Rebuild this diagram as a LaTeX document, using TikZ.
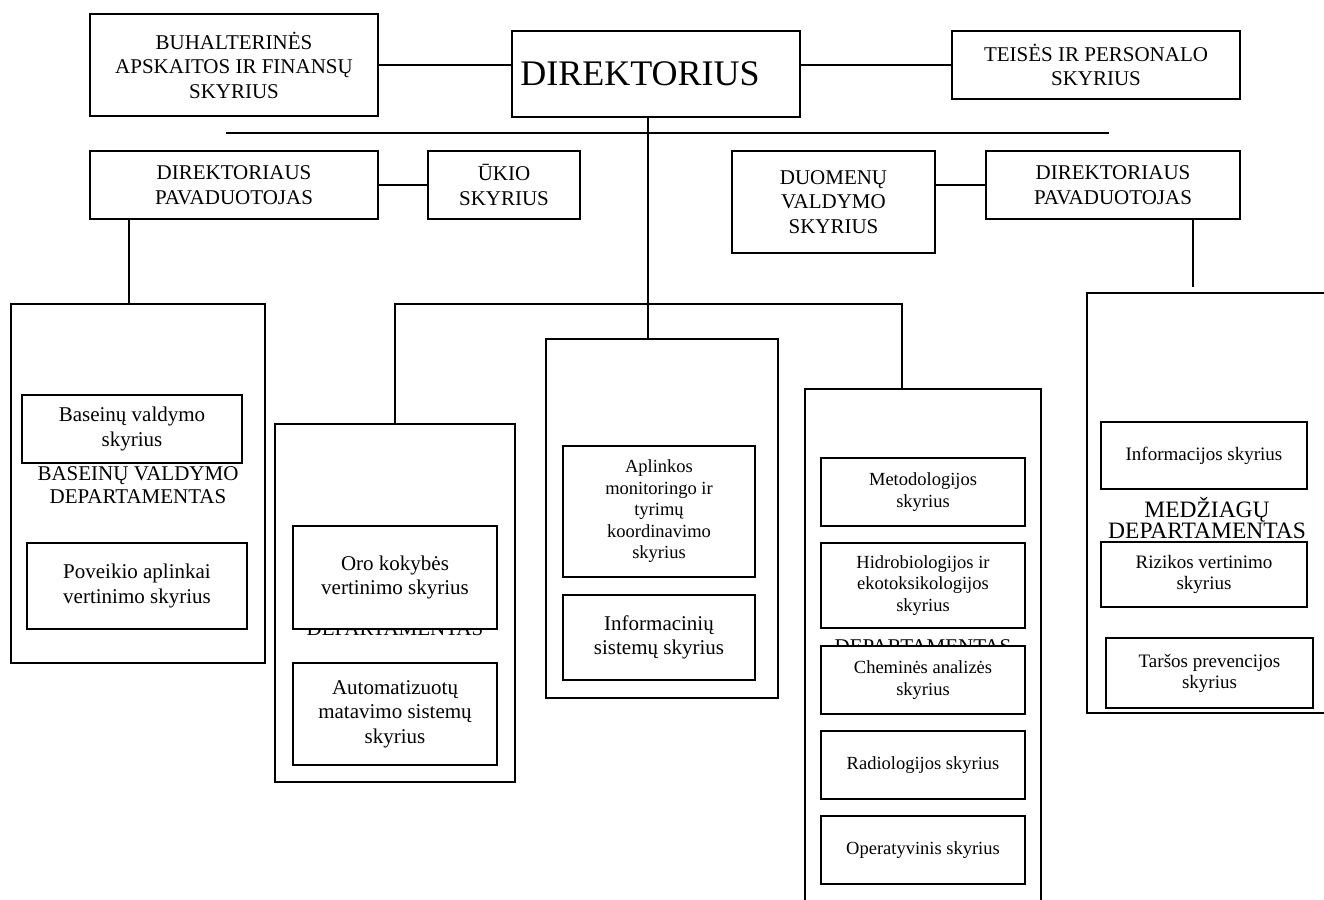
\documentclass[tikz,border=0pt]{standalone}
\usepackage{fontspec}
\setmainfont{Liberation Serif}
\begin{document}
\begin{tikzpicture}[x=1pt,y=-1pt,line width=1.6pt]
\tikzset{
 bx/.style={draw, fill=white, inner sep=2pt, align=center, line width=1.6pt},
 fa/.style={font=\fontsize{21}{24.5}\selectfont},
 fb/.style={font=\fontsize{18.5}{21.5}\selectfont},
 fc/.style={font=\fontsize{19}{21}\selectfont},
 ttl/.style={anchor=base, inner sep=0pt, font=\fontsize{21}{23}\selectfont},
}
\useasboundingbox (0,0) rectangle (1324,899);
\clip (0,0) rectangle (1324,899);

% top row
\node[bx,fa,minimum width=288pt,minimum height=102pt] (buh) at (234,65) {BUHALTERINĖS\\APSKAITOS IR FINANSŲ\\SKYRIUS};
\node[draw, fill=white, inner sep=2pt, font=\fontsize{36}{40}\selectfont, minimum width=288pt, minimum height=86pt] (dir) at (656,74) {\mbox{DIREKTORIUS\kern32pt}};
\node[bx,fa,minimum width=288pt,minimum height=68pt] (teises) at (1096,65) {TEISĖS IR PERSONALO\\SKYRIUS};

% second row
\node[bx,fa,minimum width=288pt,minimum height=68pt] (dpl) at (234,185) {DIREKTORIAUS\\PAVADUOTOJAS};
\node[bx,fa,minimum width=152pt,minimum height=68pt] (ukio) at (504,185) {ŪKIO\\SKYRIUS};
\node[bx,fa,minimum width=203pt,minimum height=102pt] (duom) at (833.5,202) {DUOMENŲ\\VALDYMO\\SKYRIUS};
\node[bx,fa,minimum width=254pt,minimum height=68pt] (dpr) at (1113,185) {DIREKTORIAUS\\PAVADUOTOJAS};

% department frames
\node[bx,minimum width=254pt,minimum height=359pt] (dept1) at (138,483.5) {};
\node[bx,minimum width=240pt,minimum height=358pt] (dept2) at (395,603) {};
\node[bx,minimum width=232pt,minimum height=359pt] (dept3) at (662,518.5) {};
\node[bx,minimum width=236pt,minimum height=522pt] (dept4) at (923,650) {};
\node[bx,minimum width=240pt,minimum height=420pt] (dept5) at (1207,503) {};

% department titles
\node[ttl] (t1a) at (138,480) {BASEINŲ VALDYMO};
\node[ttl] (t1b) at (138,503) {DEPARTAMENTAS};
\node[ttl] (t2) at (395,635) {DEPARTAMENTAS};
\node[ttl] (t4) at (923,653) {DEPARTAMENTAS};
\node[ttl,font=\fontsize{23.5}{21}\selectfont] (t5a) at (1207,517) {MEDŽIAGŲ};
\node[ttl,font=\fontsize{23.5}{21}\selectfont] (t5b) at (1207,538) {DEPARTAMENTAS};

% left department
\node[bx,fa,minimum width=220pt,minimum height=68pt] (b1) at (132,429) {Baseinų valdymo\\skyrius};
\node[bx,fa,minimum width=220pt,minimum height=86pt] (b2) at (137,586) {Poveikio aplinkai\\vertinimo skyrius};

% second department
\node[bx,fa,minimum width=204pt,minimum height=103pt] (o1) at (395,577.5) {Oro kokybės\\vertinimo skyrius};
\node[bx,fa,minimum width=204pt,minimum height=102pt] (o2) at (395,714) {Automatizuotų\\matavimo sistemų\\skyrius};

% centre department
\node[bx,fb,minimum width=192pt,minimum height=131pt] (c1) at (659,511.5) {Aplinkos\\monitoringo ir\\tyrimų\\koordinavimo\\skyrius};
\node[bx,fa,minimum width=192pt,minimum height=85pt] (c2) at (659,637.5) {Informacinių\\sistemų skyrius};

% fourth department
\node[bx,fb,minimum width=204pt,minimum height=68pt] (r1) at (923,492) {Metodologijos\\skyrius};
\node[bx,fb,minimum width=204pt,minimum height=85pt] (r2) at (923,585.5) {Hidrobiologijos ir\\ekotoksikologijos\\skyrius};
\node[bx,fb,minimum width=204pt,minimum height=68pt] (r3) at (923,680) {Cheminės analizės\\skyrius};
\node[bx,fb,minimum width=204pt,minimum height=68pt] (r4) at (923,765) {Radiologijos skyrius};
\node[bx,fb,minimum width=204pt,minimum height=68pt] (r5) at (923,850) {Operatyvinis skyrius};

% right department
\node[bx,fc,minimum width=206pt,minimum height=67pt] (m1) at (1204,455.5) {Informacijos skyrius};
\node[bx,fc,minimum width=206pt,minimum height=65pt] (m2) at (1204,574.5) {Rizikos vertinimo\\skyrius};
\node[bx,fc,minimum width=207pt,minimum height=70pt] (m3) at (1209.5,673) {Taršos prevencijos\\skyrius};

% connectors
\coordinate (dv) at (648,0);
\coordinate (lv) at (129,0);
\coordinate (hl) at (226,133);
\coordinate (hr) at (1109,133);
\coordinate (br) at (902,304);
\coordinate (rend) at (1193,287);
\draw (buh.east) -- (buh.east -| dir.west);
\draw (dir.east |- teises.west) -- (teises.west);
\draw (hl) -- (hr);
\draw (dir.south -| dv) -- (dept3.north -| dv);
\draw (dpl.east) -- (ukio.west);
\draw (dpr.west -| duom.east) -- (dpr.west);
\draw (dpl.south -| lv) -- (dept1.north -| lv);
\draw (dept2.north) -- (dept2.north |- br) -- (br) -- (dept4.north -| br);
\draw (dpr.south -| rend) -- (rend);
\end{tikzpicture}
\end{document}
